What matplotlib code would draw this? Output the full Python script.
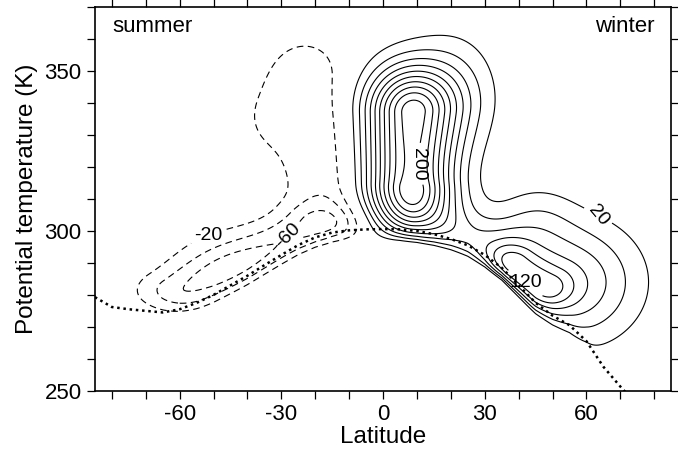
import numpy as np
import matplotlib
matplotlib.use('Agg')
import matplotlib.pyplot as plt
from matplotlib.ticker import MultipleLocator

plt.rcParams['font.family'] = ['Liberation Sans', 'DejaVu Sans']
plt.rcParams['axes.unicode_minus'] = False

# surface potential temperature (dotted line)
surf_lat = [-85, -80, -75, -70, -65, -60, -55, -50, -45, -40, -35, -30, -25, -20,
            -15, -10, -5, 0, 5, 10, 15, 20, 25, 30, 35, 40, 45, 50, 55, 60, 65, 70, 72]
surf_theta = [279.3, 276.2, 275.5, 275.0, 274.5, 275.5, 277.5, 280.0, 283.0, 286.0,
              289.3, 292.5, 295.6, 298.0, 299.5, 300.2, 300.5, 300.6, 300.5, 300.0,
              299.0, 297.5, 295.5, 292.5, 288.5, 283.0, 277.5, 273.5, 270.5, 265.5,
              257.5, 251.3, 249.0]

# field components: each is a ridge between two points
#            tower  upper  2nd   broadN shoul  bandN  bandS  broadS tongue bulge
blob_lat0 = [8,     21,    38,   55,    45,    10,    -58,   -48,   -17,   -35]
blob_th0 = [315,    343,   288,  284,   303,   303,   281,   291,   311,   335]
blob_lat1 = [8,     21,    47,   55,    45,    32,    -18,   -48,   -23,   -35]
blob_th1 = [337,    343,   282,  284,   303,   293,   301,   291,   347,   335]
blob_amp = [200,    40,    68,   80,    25,    60,    -55,   -20,   -36,   -15]
blob_wlat = [9,     9,     6,    14,    8,     8,     10,    12,    9,     6]
blob_wth = [10,     13,    5,    13,    8,     7,     5,     9,     10,    8]

neg_levels = [-80, -60, -40, -20]
pos_levels = [20, 40, 60, 80, 100, 120, 140, 160, 180, 200]

# label text -> rotation as printed in the figure
label_rot = {'-20': 0, '-60': 45, '20': -50, '120': 0, '200': -90}

lat = np.linspace(-85, 85, 341)
th = np.linspace(250, 370, 241)
LAT, TH = np.meshgrid(lat, th)


def ridge(a0, t0, a1, t1, amp, wa, wt):
    x, y = LAT / wa, TH / wt
    ax0, ay0, ax1, ay1 = a0 / wa, t0 / wt, a1 / wa, t1 / wt
    dx, dy = ax1 - ax0, ay1 - ay0
    L2 = dx * dx + dy * dy
    if L2 == 0:
        t = 0.0
    else:
        t = np.clip(((x - ax0) * dx + (y - ay0) * dy) / L2, 0, 1)
    d2 = (x - ax0 - t * dx) ** 2 + (y - ay0 - t * dy) ** 2
    return amp * np.exp(-0.5 * d2)


field = np.zeros_like(LAT)
for p in zip(blob_lat0, blob_th0, blob_lat1, blob_th1, blob_amp, blob_wlat, blob_wth):
    field += ridge(*p)

# vanish just below the ground
ground = np.interp(lat, surf_lat, surf_theta, left=surf_theta[0], right=240)
s = TH - (ground[None, :] - 4.5)
field *= 1 - np.exp(-np.clip(s, 0, None) / 3.0)

fig = plt.figure(figsize=(6.78, 4.57), dpi=100)
ax = fig.add_axes([0.140, 0.145, 0.850, 0.839])

cn = ax.contour(LAT, TH, field, levels=neg_levels, colors='black',
                linewidths=0.8, linestyles=[(0, (6, 4))])
cp = ax.contour(LAT, TH, field, levels=pos_levels, colors='black',
                linewidths=0.8, linestyles='solid')
ax.plot(surf_lat, surf_theta, color='black', lw=1.8, linestyle=(0, (1, 1.5)))

ax.clabel(cn, fmt='%d', fontsize=14, manual=[(-52, 300), (-30, 300)])
ax.clabel(cp, fmt='%d', fontsize=14, manual=[(64, 306), (43, 285), (11, 321)])
for t in list(cn.labelTexts) + list(cp.labelTexts):
    if t.get_text() in label_rot:
        t.set_rotation(label_rot[t.get_text()])

ax.text(-80, 364, 'summer', fontsize=16, ha='left', va='center')
ax.text(80, 364, 'winter', fontsize=16, ha='right', va='center')

ax.set_xlim(-85, 85)
ax.set_ylim(250, 370)
ax.set_xticks([-60, -30, 0, 30, 60])
ax.set_yticks([250, 300, 350])
ax.xaxis.set_minor_locator(MultipleLocator(10))
ax.yaxis.set_minor_locator(MultipleLocator(10))
ax.tick_params(which='both', direction='out', length=6, width=0.9,
               top=True, right=True, labelsize=16)
for sp in ax.spines.values():
    sp.set_linewidth(1.2)
ax.set_xlabel('Latitude', fontsize=17.5, labelpad=1)
ax.set_ylabel('Potential temperature (K)', fontsize=17.5, labelpad=5)

fig.savefig('out.png', dpi=100)
